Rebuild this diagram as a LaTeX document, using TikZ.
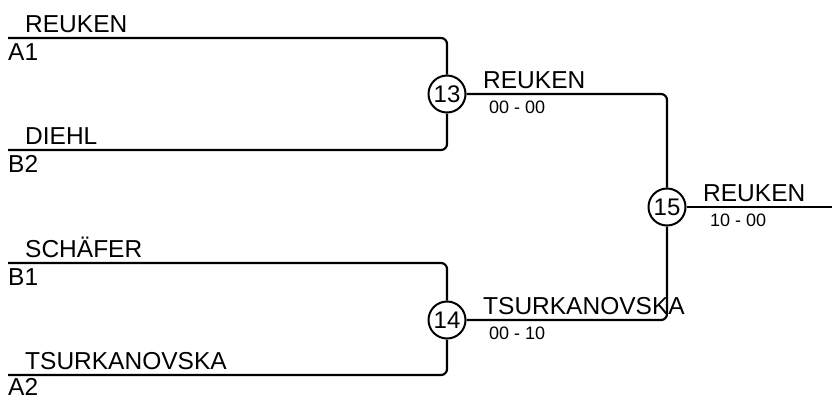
\documentclass[tikz,border=0pt]{standalone}
\usepackage{fontspec}
\setmainfont{Liberation Sans}
\usetikzlibrary{positioning}

\begin{document}
\begin{tikzpicture}[x=1pt,y=-1pt,
    bline/.style={line width=2.2pt,rounded corners=6pt},
    matchnode/.style={circle,draw,line width=2pt,fill=white,minimum size=37pt,inner sep=0pt,
        font=\fontsize{24}{24}\selectfont},
    player/.style={anchor=base west,inner sep=0pt,font=\fontsize{24.5}{28}\selectfont},
    score/.style={anchor=base west,inner sep=0pt,font=\fontsize{18}{20}\selectfont}]
    \useasboundingbox (0,0) rectangle (832,400);

    % first round
    \coordinate (a1) at (8,38);
    \coordinate (b2) at (8,150);
    \coordinate (b1) at (8,263);
    \coordinate (a2) at (8,375);
    \coordinate (fin) at (832,207);

    \node[matchnode] (m13) at (447,94) {13};
    \node[matchnode] (m14) at (447,320) {14};
    \node[matchnode] (m15) at (667,207) {15};

    \draw[bline] (a1) -| (m13.north);
    \draw[bline] (b2) -| (m13.south);
    \draw[bline] (b1) -| (m14.north);
    \draw[bline] (a2) -| (m14.south);

    %final
    \draw[bline] (m13.east) -| (m15.north);
    \draw[bline] (m14.east) -| (m15.south);
    \draw[bline] (m15.east) -- (fin);

    \node[player] (pa1) at (25,32) {REUKEN};
    \node[player] (sa1) at (8,60) {A1};
    \node[player] (pb2) at (25,144) {DIEHL};
    \node[player] (sb2) at (8,172) {B2};
    \node[player] (pb1) at (25,257) {SCHÄFER};
    \node[player] (sb1) at (8,285) {B1};
    \node[player] (pa2) at (25,369) {TSURKANOVSKA};
    \node[player] (sa2) at (8,395) {A2};

    \node[player] (w13) at (483,88) {REUKEN};
    \node[score] (r13) at (489,113) {00 - 00};
    \node[player] (w14) at (483,314) {TSURKANOVSKA};
    \node[score] (r14) at (489,339) {00 - 10};
    \node[player] (w15) at (703,201) {REUKEN};
    \node[score] (r15) at (710,226) {10 - 00};
\end{tikzpicture}
\end{document}
